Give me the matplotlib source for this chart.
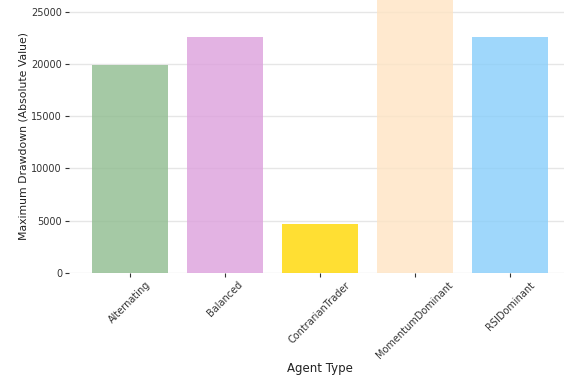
import matplotlib
matplotlib.use("Agg")
import matplotlib.pyplot as plt

# Maximum drawdown per agent type
agents = ["Alternating", "Balanced", "ContrarianTrader", "MomentumDominant", "RSIDominant"]
drawdown = [19950, 22600, 4670, 31000, 22600]
colors = ["darkseagreen", "plum", "gold", "bisque", "lightskyblue"]
yticks = [0, 5000, 10000, 15000, 20000, 25000]

plt.rcParams["font.family"] = ["DejaVu Sans"]

fig = plt.figure(figsize=(5.64, 3.77), dpi=100)
W, H = 564, 377
left, right, top, bottom = 69, 571, 0, 272.7
ax = fig.add_axes([left / W, 1 - bottom / H, (right - left) / W, (bottom - top) / H])

x = range(len(agents))
ax.bar(x, drawdown, width=0.8, color=colors, alpha=0.8, zorder=2)

ax.set_xlim(-0.64, len(agents) - 1 + 0.64)
ax.set_ylim(0, 26150)
ax.set_yticks(yticks)
ax.set_yticklabels([str(t) for t in yticks])
ax.set_xticks(list(x))
ax.set_xticklabels(agents, rotation=45, ha="center")

ax.yaxis.grid(True, color="#e6e6e6", linewidth=1.0, zorder=1)
ax.set_axisbelow(True)
for s in ax.spines.values():
    s.set_visible(False)

ax.tick_params(axis="both", labelsize=7, colors="#333333", length=3, width=0.8, pad=2)
ax.set_ylabel("Maximum Drawdown (Absolute Value)", fontsize=7.8, color="#222222", labelpad=2)
ax.set_xlabel("Agent Type", fontsize=8.5, color="#222222", labelpad=1)

fig.savefig("out.png", dpi=100)
